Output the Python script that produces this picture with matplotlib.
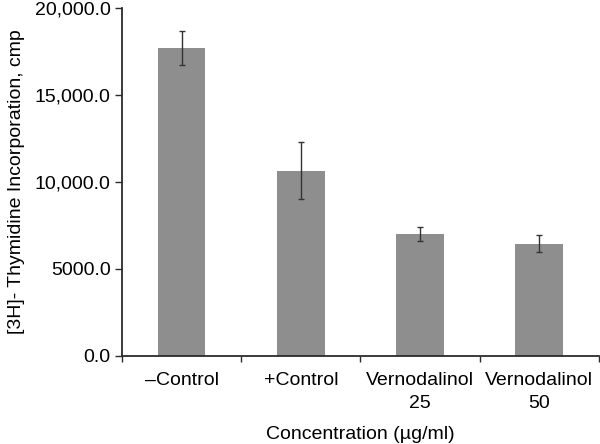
import numpy as np
import matplotlib
matplotlib.use("Agg")
import matplotlib.pyplot as plt

plt.rcParams["font.family"] = ["Liberation Sans", "DejaVu Sans"]

# values
categories = ["\u2013Control", "+Control", "Vernodalinol\n25", "Vernodalinol\n50"]
means = [17740, 10650, 7010, 6450]
errors = [970, 1650, 420, 480]

y_ticks = [0, 5000, 10000, 15000, 20000]
y_tick_labels = ["0.0", "5000.0", "10,000.0", "15,000.0", "20,000.0"]

BAR_COLOR = "#8e8e8e"
AXIS_COLOR = "#2b2b2b"
FS = 14

fig = plt.figure(figsize=(6.0, 4.44), dpi=100)
ax = fig.add_axes([0.2033, 0.199, 0.7947, 0.782])

x = np.arange(len(categories))
ax.bar(x, means, width=0.4, color=BAR_COLOR, zorder=2)
ax.errorbar(x, means, yerr=errors, fmt="none", ecolor="#333333",
            elinewidth=1.0, capsize=2.5, capthick=1.0, zorder=3)

ax.set_xlim(-0.5, len(categories) - 0.5)
ax.set_ylim(0, 20000)

ax.set_yticks(y_ticks)
ax.set_yticklabels(y_tick_labels)

# category labels at centers, tick marks at the boundaries
ax.set_xticks(x)
ax.set_xticklabels(categories, linespacing=1.45)
ax.set_xticks(np.arange(len(categories) + 1) - 0.5, minor=True)
ax.tick_params(axis="x", which="major", length=0, pad=12, labelsize=FS)
ax.tick_params(axis="x", which="minor", length=4, width=1, color=AXIS_COLOR,
               direction="out")
ax.tick_params(axis="y", length=5, width=1, color=AXIS_COLOR, direction="out",
               labelsize=FS, pad=3)

for side in ["top", "right"]:
    ax.spines[side].set_visible(False)
for side in ["left", "bottom"]:
    ax.spines[side].set_color(AXIS_COLOR)
    ax.spines[side].set_linewidth(1.3)

ax.set_xlabel("Concentration (\u00b5g/ml)", fontsize=FS, labelpad=10)
ax.set_ylabel("[3H]- Thymidine Incorporation, cmp", fontsize=FS, labelpad=7)

fig.savefig("out.png", dpi=100)
